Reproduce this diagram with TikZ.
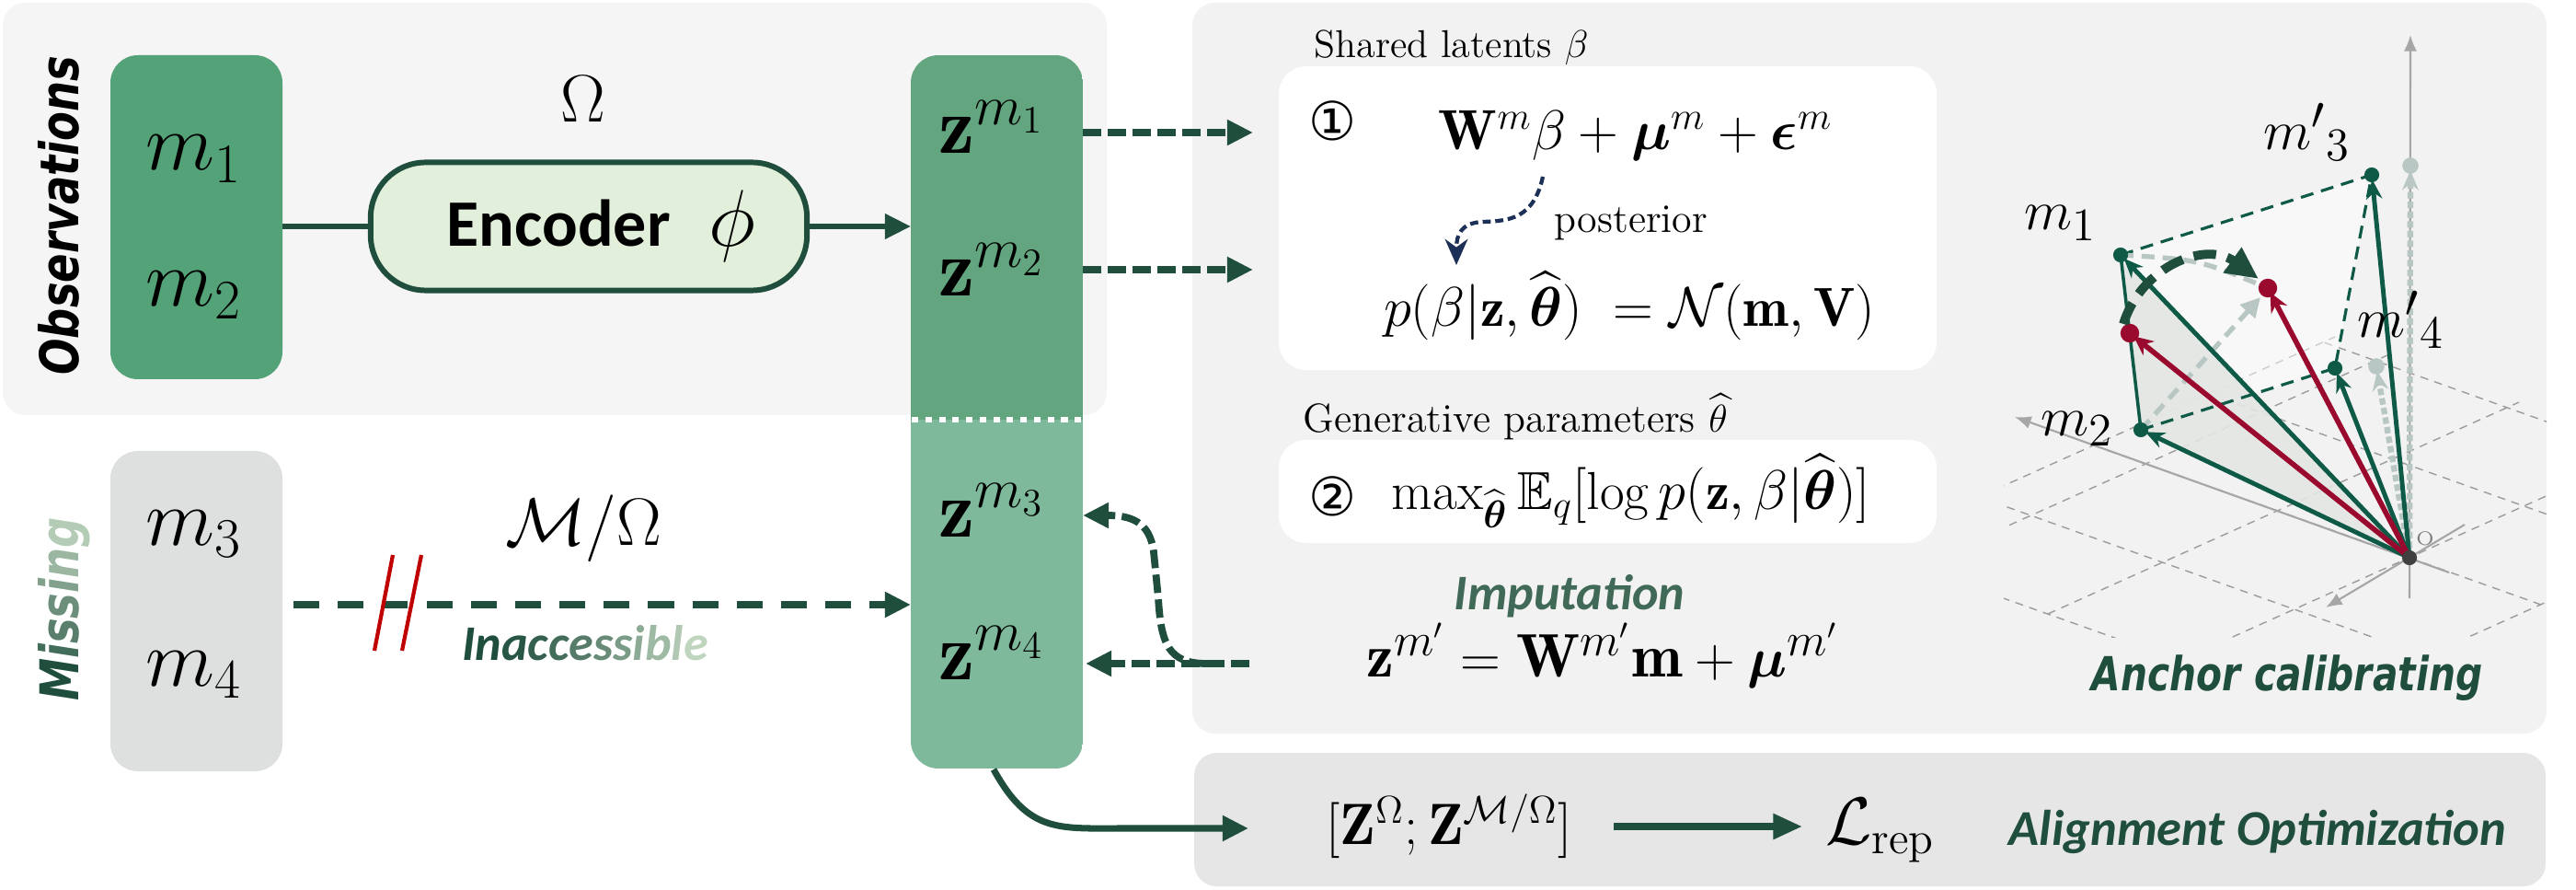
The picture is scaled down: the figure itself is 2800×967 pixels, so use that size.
\documentclass[tikz,border=0pt]{standalone}
\usepackage{amsmath,amssymb}
\usepackage{fontspec}
\usetikzlibrary{arrows.meta,calc}
\newfontfamily\obsfont[FakeStretch=0.8]{DejaVu Sans}
\newfontfamily\calfont{Carlito}
\newfontfamily\circfont{DejaVu Sans}
\definecolor{dkg}{HTML}{1F4E3D}
\definecolor{lg}{HTML}{D5E8D0}
\definecolor{mboxc}{HTML}{54A378}
\definecolor{zup}{HTML}{62A57E}
\definecolor{zlo}{HTML}{7EB99C}
\definecolor{encfill}{HTML}{E2EFDA}
\definecolor{missc}{HTML}{DEDFDF}
\definecolor{obspanel}{HTML}{F5F5F5}
\definecolor{rpanel}{HTML}{F2F2F2}
\definecolor{bpanel}{HTML}{E6E6E6}
\definecolor{slashc}{HTML}{C00000}
\definecolor{pgreen}{HTML}{0E5A46}
\definecolor{pred}{HTML}{9A0A2E}
\definecolor{navyc}{HTML}{1B2F57}
\definecolor{axgray}{HTML}{A6A6A6}
\definecolor{ltgray}{HTML}{B8C7C3}
\definecolor{gridc}{HTML}{9C9C9C}
\definecolor{shadec}{HTML}{E4E6E4}
\newcommand{\fsz}[1]{\fontsize{#1}{#1}\selectfont}
\newcommand{\gc}[2]{\textcolor{dkg!#1!lg}{#2}}
\begin{document}
\begin{tikzpicture}[x=0.01cm,y=-0.01cm,
  lbl/.style={anchor=base,inner sep=0pt},
  dasharr/.style={draw=dkg,line width=2.2pt,dash pattern=on 5.7pt off 2pt,-{Triangle[length=8pt,width=7.5pt]}},
  longdash/.style={draw=dkg,line width=2.1pt,dash pattern=on 8pt off 5.7pt,-{Triangle[length=8pt,width=7.5pt]}},
  solarr/.style={draw=dkg,line width=1.8pt,-{Triangle[length=8pt,width=7.5pt]}},
  gvec/.style={draw=pgreen,line width=1.4pt,shorten >=1.5pt,-{Stealth[length=6pt,width=5pt]}},
  rvec/.style={draw=pred,line width=1.6pt,shorten >=1.5pt,-{Stealth[length=6pt,width=5.5pt]}},
  grayvec/.style={draw=ltgray,line width=1.8pt,dash pattern=on 2pt off 1pt,shorten >=1.5pt,-{Stealth[length=6pt,width=5pt]}},
  gdash/.style={draw=pgreen,line width=0.9pt,dash pattern=on 4pt off 2.5pt},
  gridl/.style={draw=gridc,line width=0.4pt,dash pattern=on 2.5pt off 2pt},
  axisl/.style={draw=axgray,line width=0.6pt,-{Latex[length=5pt,width=4pt]}}]
\useasboundingbox (0,0) rectangle (2800,967);
% ---------- panels
\fill[obspanel,rounded corners=7pt] (3,3) rectangle (1203,451);
\fill[rpanel,rounded corners=7pt] (1296,3) rectangle (2768,797);
\fill[bpanel,rounded corners=7pt] (1298,818) rectangle (2767,963);
% ---------- left boxes
\fill[mboxc,rounded corners=8.5pt] (120,60) rectangle (307,412);
\fill[missc,rounded corners=8.5pt] (120,490) rectangle (307,838);
\coordinate (mobsE) at (307,246);
\coordinate (missE) at (319,657);
\node[lbl] (m1) at (211,185) {\fsz{24}$m_1$};
\node[lbl] (m2) at (211,333) {\fsz{24}$m_2$};
\node[lbl] (m3) at (211,592) {\fsz{24}$m_3$};
\node[lbl] (m4) at (211,745) {\fsz{24}$m_4$};
\node[rotate=90,inner sep=0pt] (obs) at (64,234) {\obsfont\bfseries\itshape\fsz{16.5}Observations};
\node[rotate=90,inner sep=0pt] (missl) at (70,662) {\obsfont\bfseries\itshape\fsz{16.5}\gc{100}{M}\gc{80}{i}\gc{68}{s}\gc{58}{s}\gc{46}{i}\gc{32}{n}\gc{18}{g}};
% ---------- z column
\begin{scope}
\clip[rounded corners=8.5pt] (990,60) rectangle (1177,835);
\fill[zup] (990,60) rectangle (1177,456);
\fill[zlo] (990,456) rectangle (1177,835);
\end{scope}
\coordinate (zW) at (990,246);
\coordinate (zWm) at (990,657);
\coordinate (zBot) at (1080,836);
\draw[white,line width=1.9pt,dash pattern=on 2pt off 2.2pt] (991,456) -- (1177,456);
\node[lbl] (z1) at (1078,167) {\fsz{25}$\mathbf{z}^{m_1}$};
\node[lbl] (z2) at (1078,322) {\fsz{25}$\mathbf{z}^{m_2}$};
\node[lbl] (z3) at (1078,583) {\fsz{25}$\mathbf{z}^{m_3}$};
\node[lbl] (z4) at (1078,738) {\fsz{25}$\mathbf{z}^{m_4}$};
% ---------- encoder
\node[draw=dkg,line width=1.7pt,fill=encfill,rounded corners=17pt,minimum width=4.74cm,minimum height=1.39cm,inner sep=0pt] (enc) at (640,246) {\hspace*{0.27cm}\calfont\bfseries\fsz{20.5}Encoder\hspace{0.42cm}\fsz{24}$\phi$};
\node[lbl] (omega) at (634,133) {\fsz{21}$\Omega$};
\draw[dkg,line width=1.7pt] (mobsE) -- (enc.west);
\draw[solarr,line width=1.7pt] (enc.east) -- (zW);
% ---------- missing path
\draw[longdash] (missE) -- (zWm);
\draw[slashc,line width=1.2pt] (427,603) -- (407,707);
\draw[slashc,line width=1.2pt] (458,603) -- (437,707);
\node[lbl] (mo) at (634,592) {\fsz{22}$\mathcal{M}/\Omega$};
\node[lbl] (inacc) at (636,717) {\calfont\bfseries\itshape\fsz{15.4}\gc{100}{I}\gc{100}{n}\gc{95}{a}\gc{88}{c}\gc{80}{c}\gc{70}{e}\gc{60}{s}\gc{50}{s}\gc{40}{i}\gc{30}{b}\gc{20}{l}\gc{12}{e}};
% ---------- right panel, upper
\node[lbl,anchor=base west] (shared) at (1428,63) {\fsz{12}Shared latents $\beta$};
\fill[white,rounded corners=8.5pt] (1390,72) rectangle (2105,402);
\node[lbl] (c1) at (1448,153) {\circfont\fsz{16.5}①};
\node[lbl] (f1) at (1778,163) {\fsz{17.5}$\mathbf{W}^m\beta+\boldsymbol{\mu}^m+\boldsymbol{\epsilon}^m$};
\node[lbl,anchor=base west] (post) at (1689,253) {\fsz{12.5}posterior};
\node[lbl] (f2) at (1771,355) {\fsz{17}$p(\beta|\mathbf{z},\widehat{\boldsymbol{\theta}})\;=\mathcal{N}(\mathbf{m},\mathbf{V})$};
\coordinate (ps) at (1677,192);
\coordinate (pe) at (1583,288);
\draw[navyc,line width=1.2pt,dash pattern=on 2.5pt off 1.4pt,-{Stealth[length=8pt,width=7pt,inset=2.5pt]}] (ps) .. controls (1667,238) and (1640,240) .. (1612,241) .. controls (1588,242) and (1583,255) .. (pe);
\node[lbl,anchor=base west] (gen) at (1416,470) {\fsz{12.5}Generative parameters $\widehat{\theta}$};
\fill[white,rounded corners=8.5pt] (1390,478) rectangle (2105,590);
\node[lbl] (c2) at (1448,560) {\circfont\fsz{16.5}②};
\node[lbl] (f3) at (1773,553) {\fsz{16.5}$\max_{\widehat{\boldsymbol{\theta}}}\mathbb{E}_q[\log p(\mathbf{z},\beta|\widehat{\boldsymbol{\theta}})]$};
\node[lbl] (imput) at (1706,662) {\calfont\bfseries\itshape\fsz{15.4}\textcolor{dkg!82!lg}{Imputation}};
\node[lbl] (f4) at (1742,735) {\fsz{19}$\mathbf{z}^{m'}=\mathbf{W}^{m'}\mathbf{m}+\boldsymbol{\mu}^{m'}$};
% arrows z -> right panel
\coordinate (a1) at (1177,144);
\coordinate (a1e) at (1362,144);
\coordinate (a2) at (1177,293);
\coordinate (a2e) at (1362,293);
\draw[dasharr] (a1) -- (a1e);
\draw[dasharr] (a2) -- (a2e);
% imputation arrows
\coordinate (is) at (1358,721);
\coordinate (zE4) at (1180,721);
\coordinate (zE3) at (1177,560);
\draw[dasharr] (is) -- (zE4);
\draw[dasharr] (1312,721) .. controls (1270,721) and (1262,700) .. (1259,650) -- (1254,600) .. controls (1250,566) and (1228,560) .. (zE3);
% ---------- bottom panel
\node[lbl] (zz) at (1575,917) {\fsz{18}$[\mathbf{Z}^{\Omega};\mathbf{Z}^{\mathcal{M}/\Omega}]$};
\node[lbl] (lrep) at (2044,917) {\fsz{20}$\mathcal{L}_{\mathrm{rep}}$};
\node[lbl,anchor=base west] (align) at (2183,918) {\calfont\bfseries\itshape\fsz{15.5}\textcolor{dkg}{Alignment Optimization}};
\draw[solarr,line width=2.1pt,-{Triangle[length=9pt,width=7.5pt]}] (zz.east |- 0,898) ++(45,0) -- (1959,898);
\draw[solarr,line width=2pt] (zBot) .. controls (1118,905) and (1150,900) .. (1220,900) -- (1357,900);
% ---------- 3D plot
\coordinate (O) at (2619,606);
\coordinate (p1) at (2305,277);
\coordinate (p2) at (2327,467);
\coordinate (r1) at (2315,362);
\coordinate (r2) at (2465,313);
\coordinate (p3) at (2578,190);
\coordinate (p4) at (2538,400);
\coordinate (g1) at (2620,180);
\coordinate (g2) at (2583,398);
\begin{scope}
\clip (2178,300) rectangle (2768,692);
\draw[gridl] (2512,769) -- (2026,596);
\draw[gridl] (2637,713) -- (2151,540);
\draw[gridl] (2762,657) -- (2276,484);
\draw[gridl] (2887,601) -- (2401,428);
\draw[gridl] (3012,545) -- (2526,372);
\draw[gridl] (2512,769) -- (3024,539);
\draw[gridl] (2369,718) -- (2881,488);
\draw[gridl] (2226,667) -- (2738,437);
\draw[gridl] (2083,616) -- (2595,386);
\draw[gridl] (2026,596) -- (2538,366);
\end{scope}
\fill[white,opacity=0.5] (p1) -- (p3) -- (p4) -- (p2) -- cycle;
\fill[shadec,opacity=0.9] (O) -- (p1) -- (p2) -- cycle;
\draw[axisl] (2619,650) -- (2620,38);
\draw[axisl] (2662,622) -- (2190,453);
\draw[axisl] (2679,570) -- (2528,660);
\draw[grayvec] (O) -- (g1);
\draw[grayvec] (O) -- (g2);
\fill[ltgray] (g1) circle (2.5pt);
\fill[ltgray] (g2) circle (2.5pt);
\draw[pgreen,line width=1pt] (p1) -- (p2);
\draw[gdash] (p1) -- (p3) -- (p4);
\draw[gdash] (p2) -- (p4);
\draw[ltgray,line width=1.5pt,dash pattern=on 4pt off 2.5pt] (p1) .. controls (2390,282) .. (r2);
\draw[ltgray,line width=1.5pt,dash pattern=on 4pt off 2.5pt,-{Triangle[length=6pt,width=6pt]}] (p2) -- ($(r2)+(-8,10)$);
\draw[gvec] (O) -- (p1);
\draw[gvec] (O) -- (p2);
\draw[gvec] (O) -- (p3);
\draw[gvec] (O) -- (p4);
\draw[rvec] (O) -- (r1);
\draw[rvec] (O) -- (r2);
\foreach \p in {p1,p2,p3,p4} \fill[pgreen] (\p) circle (2.3pt);
\foreach \p in {r1,r2} \fill[pred] (\p) circle (2.9pt);
\fill[black!75] (O) circle (2.3pt);
\draw[dkg,line width=2.8pt,dash pattern=on 7pt off 3.5pt,-{Triangle[length=10pt,width=9pt]}] (2308,352) .. controls (2328,288) and (2398,262) .. (2455,303);
\node[lbl] (l1) at (2240,250) {\fsz{19}$m_1$};
\node[lbl] (l2) at (2258,473) {\fsz{19}$m_2$};
\node[lbl] (l3) at (2508,163) {\fsz{19}${m'}_3$};
\node[lbl] (l4) at (2610,367) {\fsz{19}${m'}_4$};
\node[lbl,text=gray] (ol) at (2636,592) {\fsz{6}O};
\node[lbl] (anch) at (2486,750) {\obsfont\bfseries\itshape\fsz{14.5}\textcolor{dkg}{Anchor calibrating}};
\end{tikzpicture}
\end{document}
